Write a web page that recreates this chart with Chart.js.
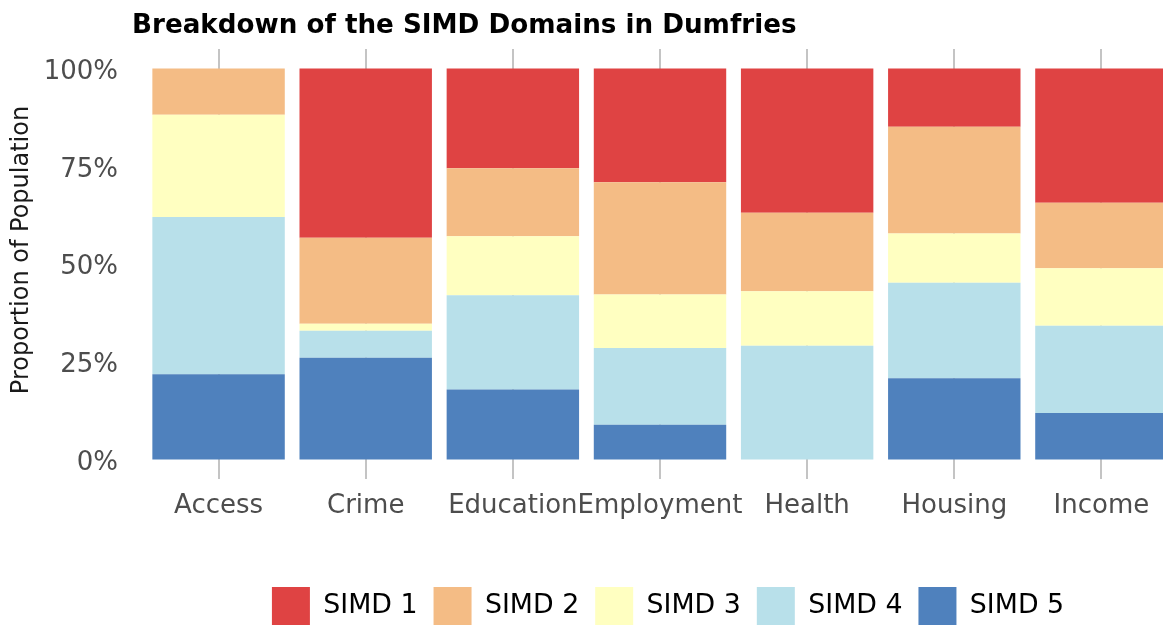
<!DOCTYPE html>
<html>
<head>
<meta charset="utf-8">
<script src="https://cdn.jsdelivr.net/npm/chart.js@4/dist/chart.umd.min.js"></script>
<style>
  html, body { margin: 0; padding: 0; background: #ffffff; overflow: hidden; width: 1163px; height: 626px; }
  #wrap { position: relative; width: 1163px; height: 626px; overflow: hidden; }
  canvas { position: absolute; left: 0; top: 0; }
</style>
</head>
<body>
<div id="wrap"><canvas id="c" width="1175" height="635"></canvas></div>
<script>
const chartTitle = "Breakdown of the SIMD Domains in Dumfries";
const categories = ["Access", "Crime", "Education", "Employment", "Health", "Housing", "Income"];
const seriesNames = ["SIMD 1", "SIMD 2", "SIMD 3", "SIMD 4", "SIMD 5"];
const simd1 = [0.0, 43.3, 25.5, 29.1, 36.9, 14.9, 34.3];
const simd2 = [11.8, 22.0, 17.4, 28.7, 20.1, 27.3, 16.8];
const simd3 = [26.2, 1.8, 15.1, 13.7, 13.9, 12.6, 14.7];
const simd4 = [40.2, 6.9, 24.1, 19.6, 29.1, 24.4, 22.3];
const simd5 = [21.8, 26.0, 17.9, 8.9, 0.0, 20.8, 11.9];
const yTicks = [0, 25, 50, 75, 100];
const yAxisTitle = "Proportion of Population";

const colors = ["#df4343", "#f4bc85", "#ffffc1", "#b8e0ea", "#4f81bd"];
const seriesValues = [simd1, simd2, simd3, simd4, simd5];

// Build datasets bottom-first (SIMD 5 at bottom)
const datasets = [];
for (let i = seriesValues.length - 1; i >= 0; i--) {
  datasets.push({
    label: seriesNames[i],
    data: seriesValues[i],
    backgroundColor: colors[i],
    borderWidth: 0,
    barPercentage: 0.9,
    categoryPercentage: 1.0
  });
}

const textPlugin = {
  id: 'customText',
  afterLayout(chart) {
    if (chart.legend) { chart.legend.left += 8; chart.legend.right += 8; }
  },
  afterDraw(chart) {
    const ctx = chart.ctx;
    ctx.save();
    ctx.font = 'bold 26.2px "DejaVu Sans"';
    ctx.fillStyle = '#000000';
    ctx.textAlign = 'left';
    ctx.textBaseline = 'alphabetic';
    ctx.fillText(chartTitle, 132, 33);
    ctx.restore();

    ctx.save();
    ctx.translate(22, 250);
    ctx.rotate(-Math.PI / 2);
    ctx.font = '24px "DejaVu Sans"';
    ctx.fillStyle = '#1a1a1a';
    ctx.textAlign = 'center';
    ctx.textBaseline = 'middle';
    ctx.fillText(yAxisTitle, 0, 0);
    ctx.restore();
  }
};

new Chart(document.getElementById('c'), {
  type: 'bar',
  data: { labels: categories, datasets: datasets },
  plugins: [textPlugin],
  options: {
    responsive: false,
    animation: false,
    devicePixelRatio: 1,
    layout: { padding: { top: 49, left: 0, right: 0, bottom: 0 } },
    plugins: {
      title: { display: false },
      tooltip: { enabled: false },
      legend: {
        position: 'bottom',
        fullSize: false,
        reverse: true,
        labels: {
          boxWidth: 38,
          boxHeight: 38,
          padding: 16,
          color: '#000000',
          font: { family: 'DejaVu Sans', size: 26.8 }
        }
      }
    },
    scales: {
      x: {
        stacked: true,
        offset: true,
        grid: { display: true, offset: false, color: '#c4c4c4', lineWidth: 2, drawTicks: false },
        border: { display: false },
        ticks: { color: '#4d4d4d', padding: 12, font: { family: 'DejaVu Sans', size: 26 }, maxRotation: 0, autoSkip: false },
        afterFit(scale) { scale.height = 92; }
      },
      y: {
        stacked: true,
        min: -5,
        max: 105,
        afterBuildTicks(scale) { scale.ticks = yTicks.map(v => ({ value: v })); },
        grid: { display: false, drawTicks: false },
        border: { display: false },
        ticks: {
          color: '#4d4d4d',
          padding: 27,
          labelOffset: 3.5,
          font: { family: 'DejaVu Sans', size: 26 },
          callback: (v) => v + '%'
        },
        title: { display: false },
        afterFit(scale) { scale.width = 145; }
      }
    }
  }
});
</script>
</body>
</html>
